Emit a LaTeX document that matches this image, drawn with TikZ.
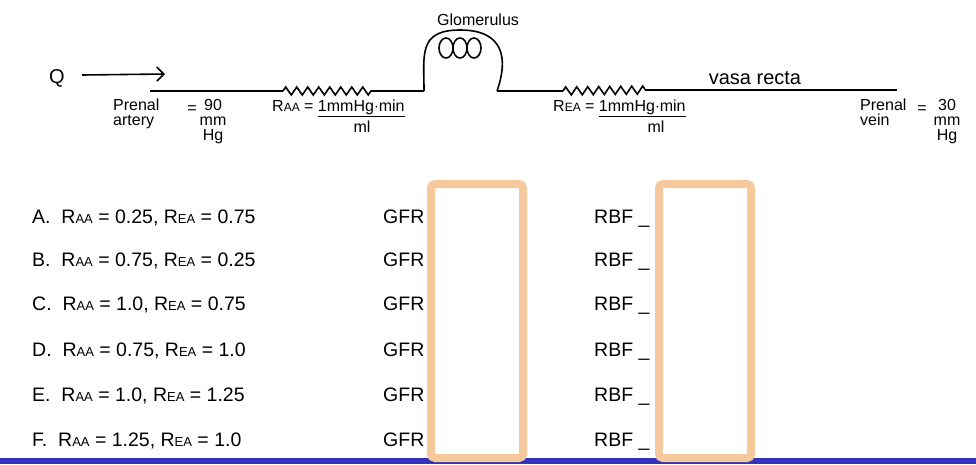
\documentclass[tikz,border=0pt]{standalone}
\usepackage{fontspec}
\setmainfont{Liberation Sans}
\usetikzlibrary{decorations.pathmorphing,arrows.meta}
\definecolor{boxor}{RGB}{246,201,156}
\definecolor{barblue}{RGB}{51,51,190}
\tikzset{
  hand/.style={line width=1.6pt,black},
  hw/.style={font=\fontsize{16}{15}\selectfont,inner sep=0pt},
  row/.style={anchor=base west,font=\fontsize{19.5}{19.5}\selectfont,inner sep=0pt},
  ansbox/.style={draw=boxor,line width=8pt,rounded corners=4pt},
  zig/.style={hand,decorate,decoration={zigzag,segment length=11pt,amplitude=4pt}}
}
\newcommand{\sub}[1]{{\fontsize{13}{13}\selectfont #1}}
\newcommand{\hsub}[1]{{\fontsize{12}{12}\selectfont #1}}
\begin{document}
\begin{tikzpicture}[x=1pt,y=-1pt]
\useasboundingbox (0,0) rectangle (976,464);
% handwritten circuit
\node[hw,font=\fontsize{20}{20}\selectfont] (q) at (57,78) {Q};
\coordinate (a1) at (82,75); \coordinate (a2) at (165,74);
\draw[hand,-{Straight Barb[length=7pt]}] (a1) -- (a2);
\coordinate (s) at (150,91); \coordinate (z1) at (283,91); \coordinate (z2) at (376,91);
\coordinate (g1) at (424,91); \coordinate (g2) at (497,91);
\coordinate (z3) at (563,91); \coordinate (z4) at (650,90); \coordinate (e) at (897,90);
\draw[hand] (s) -- (z1);
\draw[zig] (z1) -- (z2);
\draw[hand] (z2) -- (g1);
\draw[hand] (g1) .. controls (424,55) and (418,30) .. (460,30) .. controls (505,30) and (508,60) .. (g2);
\foreach \cx in {446,460,474}{\draw[hand] (\cx,48) ellipse (7pt and 10pt);}
\draw[hand] (g2) -- (z3);
\draw[zig] (z3) -- (z4);
\draw[hand] (z4) -- (e);
\node[hw] (glo) at (478,20) {Glomerulus};
\node[hw,font=\fontsize{20}{20}\selectfont] (vr) at (755,78) {vasa recta};
\node[hw,align=left,anchor=north west] (pa) at (113,99) {Prenal\\artery};
\node[hw] (eq1) at (192,110) {=};
\node[hw,align=center,anchor=north] (pa2) at (213,99) {90\\mm\\Hg};
\node[hw,anchor=west] (raa) at (272,108) {R\hsub{AA} = \underline{1mmHg$\cdot$min}};
\node[hw] (ml1) at (362,127) {ml};
\node[hw,anchor=west] (rea) at (553,108) {R\hsub{EA} = \underline{1mmHg$\cdot$min}};
\node[hw] (ml2) at (656,127) {ml};
\node[hw,align=left,anchor=north west] (pv) at (860,99) {Prenal\\vein};
\node[hw] (eq2) at (922,110) {=};
\node[hw,align=center,anchor=north] (pv2) at (947,99) {30\\mm\\Hg};
% rows
\foreach \y/\t in {223/{A.\ \ R\sub{AA} = 0.25, R\sub{EA} = 0.75},
                    266/{B.\ \ R\sub{AA} = 0.75, R\sub{EA} = 0.25},
                    310/{C.\ \ R\sub{AA} = 1.0, R\sub{EA} = 0.75},
                    356/{D.\ \ R\sub{AA} = 0.75, R\sub{EA} = 1.0},
                    401/{E.\ \ R\sub{AA} = 1.0, R\sub{EA} = 1.25},
                    446/{F.\ \ R\sub{AA} = 1.25, R\sub{EA} = 1.0}}{
  \node[row] at (32,\y) {\t};
  \node[row] at (383,\y) {GFR};
  \node[row] at (594,\y) {RBF \_};
}
\fill[barblue] (0,458) rectangle (976,464);
\node[ansbox,minimum width=92pt,minimum height=274pt] (b1) at (477,321) {};
\node[ansbox,minimum width=92pt,minimum height=274pt] (b2) at (705,321) {};
\end{tikzpicture}
\end{document}
